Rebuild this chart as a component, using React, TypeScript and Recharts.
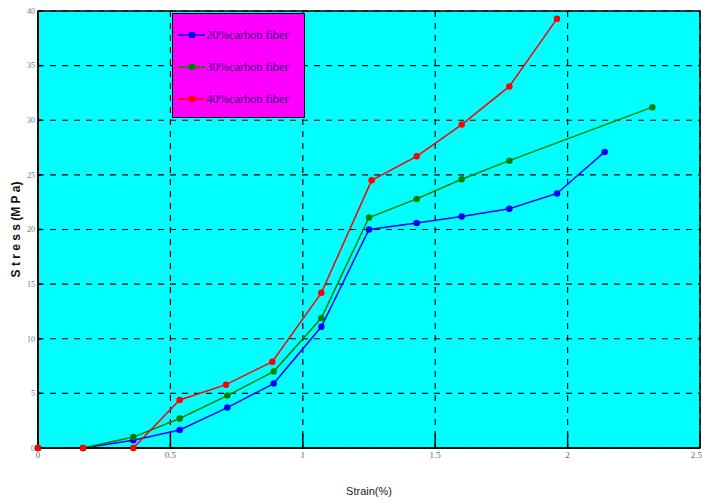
import {
  CartesianGrid,
  Line,
  LineChart,
  ReferenceArea,
  XAxis,
  YAxis,
} from "recharts";

const strain20 = [0, 0.17, 0.36, 0.535, 0.715, 0.89, 1.07, 1.25, 1.43, 1.6, 1.78, 1.96, 2.14];
const stress20 = [0, 0, 0.7, 1.65, 3.7, 5.9, 11.1, 20.0, 20.6, 21.2, 21.9, 23.3, 27.1];

const strain30 = [0, 0.17, 0.36, 0.535, 0.715, 0.89, 1.07, 1.25, 1.43, 1.6, 1.78, 2.32];
const stress30 = [0, 0, 1.0, 2.7, 4.8, 7.0, 11.9, 21.1, 22.8, 24.6, 26.3, 31.2];

const strain40 = [0, 0.17, 0.36, 0.535, 0.71, 0.885, 1.07, 1.26, 1.43, 1.6, 1.78, 1.96];
const stress40 = [0, 0, 0, 4.4, 5.8, 7.9, 14.2, 24.5, 26.7, 29.6, 33.1, 39.3];

const xTicks = [0, 0.5, 1, 1.5, 2, 2.5];
const yTicks = [0, 5, 10, 15, 20, 25, 30, 35, 40];

const seriesNames = ["20%carbon fiber", "30%carbon fiber", "40%carbon fiber"];
const seriesColors = ["#0000ff", "#008000", "#ff0000"];

const toRows = (xs: number[], ys: number[]) =>
  xs.map((x, i) => ({ strain: x, stress: ys[i] }));

const series = [
  toRows(strain20, stress20),
  toRows(strain30, stress30),
  toRows(strain40, stress40),
];

// legend sits inside the plot, so it is drawn over the chart instead of
// letting recharts reserve room for it
const LegendBox = () => (
  <div
    style={{
      position: "absolute",
      left: 172,
      top: 13,
      width: 133,
      height: 105,
      background: "#ff00ff",
      border: "1.5px solid #000",
      boxSizing: "border-box",
      padding: "5px 0 0 5px",
      fontFamily: "Liberation Serif",
      fontSize: 13,
      color: "#40007a",
    }}
  >
    {seriesNames.map((name, i) => (
      <div key={name} style={{ display: "flex", alignItems: "center", height: 32 }}>
        <svg width={27} height={8}>
          <line x1={0} y1={4} x2={27} y2={4} stroke={seriesColors[i]} strokeWidth={1.5} />
          <rect x={11} y={1} width={6} height={6} fill={seriesColors[i]} />
        </svg>
        <span style={{ marginLeft: 1, letterSpacing: -0.3 }}>{name}</span>
      </div>
    ))}
  </div>
);

export default function App() {
  return (
    <div style={{ position: "absolute", left: 0, top: 0, background: "#fff" }}>
      <LineChart
        width={702}
        height={504}
        margin={{ top: 11, right: 2, bottom: 0, left: 0 }}
      >
        <CartesianGrid
          fill="#00ffff"
          stroke="#000"
          strokeDasharray="6 6"
          strokeWidth={1.2}
        />
        <XAxis
          type="number"
          dataKey="strain"
          domain={[0, 2.5]}
          ticks={xTicks}
          height={56}
          axisLine={{ stroke: "#000", strokeWidth: 1.5 }}
          tickLine={{ stroke: "#000", strokeWidth: 1.5 }}
          tickSize={-14}
          tickMargin={18}
          tick={{ fill: "#666", fontSize: 9, fontFamily: "Liberation Serif" }}
          label={{
            value: "Strain(%)",
            position: "insideBottom",
            offset: 9,
            fill: "#222",
            fontSize: 11,
            fontFamily: "Liberation Sans Narrow, Liberation Sans",
          }}
        />
        <YAxis
          type="number"
          domain={[0, 40]}
          ticks={yTicks}
          width={38}
          axisLine={{ stroke: "#000", strokeWidth: 1.5 }}
          tickLine={{ stroke: "#000", strokeWidth: 1.5 }}
          tickSize={-4}
          tickMargin={7}
          tick={{ fill: "#777", fontSize: 8, fontFamily: "Liberation Serif" }}
          label={{
            value: "S t r e s s (M P a)",
            angle: -90,
            position: "insideLeft",
            offset: 16,
            fill: "#111",
            fontSize: 12,
            fontWeight: "bold",
            fontFamily: "Liberation Sans Narrow, Liberation Sans",
            style: { textAnchor: "middle" },
          }}
        />
        <ReferenceArea
          x1={0}
          x2={2.5}
          y1={0}
          y2={40}
          fill="none"
          stroke="#000"
          strokeWidth={1.5}
          ifOverflow="visible"
        />
        {series.map((rows, i) => (
          <Line
            key={seriesNames[i]}
            data={rows}
            dataKey="stress"
            name={seriesNames[i]}
            type="linear"
            stroke={seriesColors[i]}
            strokeWidth={1.5}
            dot={{ r: 2.5, fill: seriesColors[i], stroke: seriesColors[i] }}
            isAnimationActive={false}
          />
        ))}
      </LineChart>
      <LegendBox />
    </div>
  );
}
